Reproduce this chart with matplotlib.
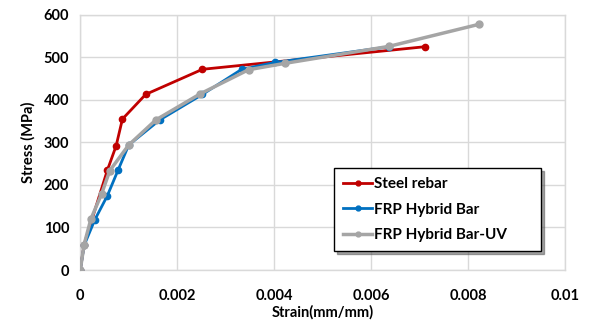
import matplotlib.pyplot as plt

plt.rcParams['font.family'] = ['Lato', 'DejaVu Sans']

steel_strain = [0, 0.00008, 0.00056, 0.00074, 0.00087, 0.00135, 0.00252, 0.0071]
steel_stress = [0, 60, 235, 292, 355, 413, 472, 525]

frp_strain = [0, 0.00008, 0.0003, 0.00056, 0.00078, 0.001, 0.00164, 0.00252, 0.00333, 0.00401, 0.00637]
frp_stress = [0, 58, 118, 175, 235, 294, 353, 413, 472, 488, 525]

uv_strain = [0, 0.00008, 0.00022, 0.00044, 0.00061, 0.001, 0.00156, 0.00247, 0.00347, 0.00422, 0.00637, 0.00823]
uv_stress = [0, 60, 120, 179, 234, 294, 353, 414, 471, 486, 526, 578]

fig = plt.figure(figsize=(5.9, 3.23), dpi=100)
ax = fig.add_axes([0.136, 0.164, 0.822, 0.790])

ax.plot(steel_strain, steel_stress, color='#C00000', lw=2, marker='o', ms=4.5, label='Steel rebar', zorder=3)
ax.plot(frp_strain, frp_stress, color='#0070C0', lw=2, marker='o', ms=4.5, label='FRP Hybrid Bar', zorder=4)
ax.plot(uv_strain, uv_stress, color='#A5A5A5', lw=2.5, marker='o', ms=5, label='FRP Hybrid Bar-UV', zorder=5)

ax.set_xlim(0, 0.01)
ax.set_ylim(0, 600)
ax.set_xticks([0, 0.002, 0.004, 0.006, 0.008, 0.01])
ax.set_xticklabels(['0', '0.002', '0.004', '0.006', '0.008', '0.01'])
ax.set_yticks(range(0, 601, 100))
ax.tick_params(length=0, labelsize=10.5, pad=8)
for lbl in ax.get_xticklabels() + ax.get_yticklabels():
    lbl.set_fontweight('bold')
ax.xaxis.set_tick_params(pad=14)

ax.grid(True, color='#D9D9D9', lw=1)
ax.set_axisbelow(True)
for s in ax.spines.values():
    s.set_color('#D9D9D9')
    s.set_linewidth(1)

ax.set_xlabel('Strain(mm/mm)', fontweight='bold', fontsize=10.5, labelpad=1)
ax.set_ylabel('Stress (MPa)', fontweight='bold', fontsize=10.5, labelpad=6)

leg = ax.legend(loc='upper left', bbox_to_anchor=(0.523, 0.039, 0.427, 0.36), mode='expand',
                fontsize=11, shadow=True, fancybox=False, framealpha=1, borderpad=0.6,
                labelspacing=0.75, handlelength=1.9, handletextpad=0.1, borderaxespad=0)
leg.get_frame().set_edgecolor('black')
leg.get_frame().set_linewidth(1)
for t in leg.get_texts():
    t.set_fontweight('bold')
for h in leg.legend_handles:
    h.set_markersize(3.5)

fig.savefig('out.png', dpi=100)
